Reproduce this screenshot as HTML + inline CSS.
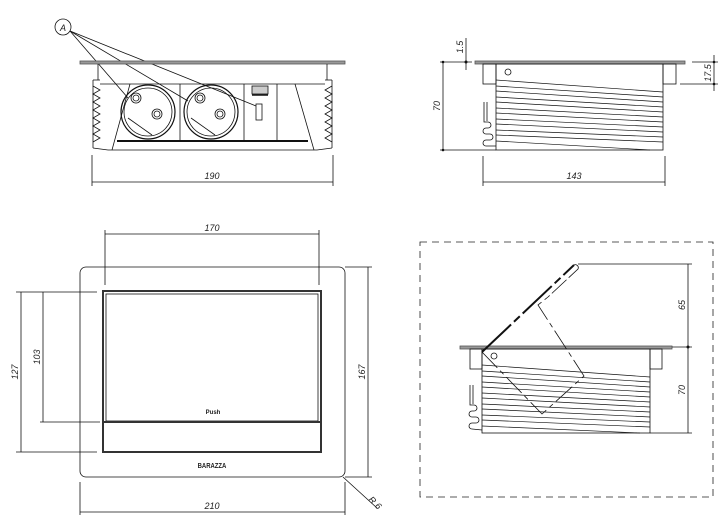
<!DOCTYPE html>
<html><head><meta charset="utf-8"><style>
html,body{margin:0;padding:0;background:#fff;width:727px;height:531px;overflow:hidden}
svg{display:block}
text{font-family:"Liberation Sans",sans-serif;font-size:9px;font-style:italic;fill:#222}
</style></head><body>
<svg width="727" height="531" viewBox="0 0 727 531" xmlns="http://www.w3.org/2000/svg">
<g stroke="#111" stroke-width="0.8" fill="none">
<circle cx="63" cy="27" r="8"/>
<line x1="70" y1="31" x2="128" y2="98"/>
<line x1="70" y1="31" x2="188" y2="101"/>
<line x1="70" y1="31" x2="256" y2="106"/>
<rect x="80" y="61" width="265" height="3" fill="#999" stroke="#555"/>
<line x1="98" y1="64" x2="98" y2="80"/><line x1="327" y1="64" x2="327" y2="80"/>
<line x1="100" y1="84" x2="325" y2="84"/>
<line x1="93" y1="80" x2="100" y2="80"/><line x1="93" y1="80" x2="93" y2="148"/>
<line x1="332" y1="80" x2="325" y2="80"/><line x1="332" y1="80" x2="332" y2="148"/>
<polyline points="93,86 100,90 93,94 100,98 93,102 100,106 93,110 100,114 93,118 100,122 93,126 100,130 93,134 100,138 93,142"/>
<polyline points="332,86 325,90 332,94 325,98 332,102 325,106 332,110 325,114 332,118 325,122 332,126 325,130 332,134 325,138 332,142"/>
<line x1="93" y1="148" x2="108" y2="150"/><line x1="332" y1="148" x2="317" y2="150"/>
<line x1="108" y1="150" x2="317" y2="150"/>
<line x1="130" y1="84" x2="112" y2="150"/><line x1="295" y1="84" x2="314" y2="150"/>
<line x1="117" y1="141" x2="308" y2="141" stroke-width="2"/>
<line x1="180" y1="84" x2="180" y2="141"/><line x1="244" y1="84" x2="244" y2="141"/><line x1="277" y1="84" x2="277" y2="141"/>
<circle cx="148" cy="112" r="27" stroke-width="1.2"/><circle cx="148" cy="112" r="24"/>
<circle cx="211" cy="112" r="27" stroke-width="1.2"/><circle cx="211" cy="112" r="24"/>
<circle cx="136" cy="98" r="5"/><circle cx="136" cy="98" r="3"/>
<circle cx="157" cy="114" r="5"/><circle cx="157" cy="114" r="3"/>
<circle cx="200" cy="98" r="5"/><circle cx="200" cy="98" r="3"/>
<circle cx="220" cy="114" r="5"/><circle cx="220" cy="114" r="3"/>
<line x1="128" y1="118" x2="152" y2="135"/><line x1="191" y1="118" x2="215" y2="135"/>
<rect x="256" y="104" width="6" height="16"/>
<rect x="252" y="86" width="16" height="8" fill="#ccc"/>
<line x1="252" y1="95" x2="268" y2="95" stroke-width="1.5"/>
<line x1="92" y1="155" x2="92" y2="186"/><line x1="333" y1="155" x2="333" y2="186"/>
<line x1="92" y1="182" x2="333" y2="182"/>
<rect x="475" y="61" width="210" height="3" fill="#999" stroke="#555"/>
<rect x="483" y="64" width="13" height="20"/><rect x="663" y="64" width="13" height="20"/>
<rect x="496" y="64" width="167" height="86"/>
<circle cx="508" cy="72" r="3"/>
<g stroke-width="0.7">
<line x1="496" y1="80" x2="663" y2="92"/><line x1="496" y1="86" x2="663" y2="97"/>
<line x1="496" y1="91" x2="663" y2="102"/><line x1="496" y1="97" x2="663" y2="107"/>
<line x1="496" y1="102" x2="663" y2="112"/><line x1="496" y1="108" x2="663" y2="117"/>
<line x1="496" y1="113" x2="663" y2="122"/><line x1="496" y1="119" x2="663" y2="127"/>
<line x1="496" y1="124" x2="663" y2="132"/><line x1="496" y1="130" x2="663" y2="137"/>
<line x1="496" y1="135" x2="663" y2="142"/><line x1="496" y1="141" x2="650" y2="150"/>
</g>
<path d="M484,102 V122 H488 a3,3 0 0 1 0,6 H486 a3,3 0 0 0 0,6 H490 a3,3 0 0 1 0,6 H486 a3,3 0 0 0 0,6 L496,146"/>
<line x1="487" y1="102" x2="487" y2="121"/>
<line x1="440" y1="62" x2="472" y2="62"/><line x1="440" y1="150" x2="496" y2="150"/>
<line x1="443" y1="62" x2="443" y2="150"/>
<line x1="466" y1="38" x2="466" y2="70"/>
<line x1="483" y1="156" x2="483" y2="186"/><line x1="665" y1="156" x2="665" y2="186"/>
<line x1="483" y1="182" x2="665" y2="182"/>
<line x1="692" y1="62" x2="718" y2="62"/><line x1="680" y1="84" x2="718" y2="84"/>
<line x1="714" y1="55" x2="714" y2="91"/>
<rect x="80" y="267" width="265" height="210" rx="6"/>
<rect x="103" y="291" width="218" height="161" stroke="#333" stroke-width="2"/>
<rect x="106" y="294" width="212" height="127"/>
<line x1="103" y1="422" x2="321" y2="422" stroke="#333" stroke-width="2"/>
<line x1="105" y1="234" x2="319" y2="234"/>
<line x1="105" y1="230" x2="105" y2="285"/><line x1="319" y1="230" x2="319" y2="285"/>
<line x1="16" y1="292" x2="97" y2="292"/><line x1="16" y1="452" x2="97" y2="452"/>
<line x1="40" y1="422" x2="100" y2="422"/>
<line x1="21" y1="292" x2="21" y2="452"/><line x1="43" y1="292" x2="43" y2="422"/>
<line x1="345" y1="267" x2="372" y2="267"/><line x1="345" y1="477" x2="372" y2="477"/>
<line x1="368" y1="267" x2="368" y2="477"/>
<line x1="80" y1="482" x2="80" y2="515"/><line x1="345" y1="482" x2="345" y2="515"/>
<line x1="80" y1="512" x2="345" y2="512"/>
<line x1="343" y1="477" x2="377" y2="508"/>
<rect x="420" y="242" width="293" height="255" stroke="#222" stroke-dasharray="7,5"/>
<rect x="460" y="346" width="212" height="3" fill="#999" stroke="#555"/>
<rect x="470" y="349" width="12" height="20"/><rect x="650" y="349" width="12" height="20"/>
<rect x="482" y="349" width="168" height="84"/>
<circle cx="494" cy="356" r="3"/>
<g stroke-width="0.7">
<line x1="482" y1="365" x2="650" y2="377"/><line x1="482" y1="371" x2="650" y2="382"/>
<line x1="482" y1="376" x2="650" y2="387"/><line x1="482" y1="382" x2="650" y2="392"/>
<line x1="482" y1="387" x2="650" y2="397"/><line x1="482" y1="393" x2="650" y2="402"/>
<line x1="482" y1="398" x2="650" y2="407"/><line x1="482" y1="404" x2="650" y2="412"/>
<line x1="482" y1="409" x2="650" y2="417"/><line x1="482" y1="415" x2="650" y2="422"/>
<line x1="482" y1="420" x2="650" y2="427"/><line x1="482" y1="426" x2="640" y2="433"/>
</g>
<path d="M470,385 V405 H474 a3,3 0 0 1 0,6 H472 a3,3 0 0 0 0,6 H476 a3,3 0 0 1 0,6 H472 a3,3 0 0 0 0,6 L482,430"/>
<line x1="473" y1="385" x2="473" y2="404"/>
<line x1="482" y1="352" x2="574" y2="265" stroke-width="2" stroke-dasharray="40,4,8,4"/>
<path d="M574,265 a3,3 0 0 1 4,4 L548,297" stroke-dasharray="20,3"/>
<path d="M482,352 L542,414 L584,376 L538,305 L548,297" stroke-dasharray="22,4,5,4"/>
<line x1="578" y1="264" x2="692" y2="264"/><line x1="672" y1="347" x2="692" y2="347"/>
<line x1="650" y1="433" x2="692" y2="433"/>
<line x1="688" y1="264" x2="688" y2="433"/>
</g>
<g fill="#111">
<circle cx="466" cy="62" r="1.5"/><circle cx="443" cy="62" r="1.3"/><circle cx="443" cy="150" r="1.3"/>
<circle cx="714" cy="62" r="1.3"/><circle cx="714" cy="84" r="1.3"/>
<circle cx="688" cy="347" r="1.5"/>
</g>
<text x="63" y="31" text-anchor="middle">A</text>
<text x="212" y="179" text-anchor="middle">190</text>
<text x="574" y="179" text-anchor="middle">143</text>
<text transform="translate(440,106) rotate(-90)" text-anchor="middle">70</text>
<text transform="translate(463,47) rotate(-90)" text-anchor="middle">1.5</text>
<text transform="translate(711,73) rotate(-90)" text-anchor="middle">17.5</text>
<text x="212" y="231" text-anchor="middle">170</text>
<text transform="translate(18,372) rotate(-90)" text-anchor="middle">127</text>
<text transform="translate(40,357) rotate(-90)" text-anchor="middle">103</text>
<text transform="translate(365,372) rotate(-90)" text-anchor="middle">167</text>
<text x="212" y="509" text-anchor="middle">210</text>
<text transform="translate(368,500) rotate(45)">R 6</text>
<text transform="translate(685,305) rotate(-90)" text-anchor="middle">65</text>
<text transform="translate(685,390) rotate(-90)" text-anchor="middle">70</text>
<text x="213" y="414" text-anchor="middle" style="font-size:6px;font-style:normal;font-weight:bold">Push</text>
<text transform="translate(212,468) scale(0.85,1)" text-anchor="middle" style="font-size:7px;font-style:normal;font-weight:bold">BARAZZA</text>
</svg>
</body></html>
